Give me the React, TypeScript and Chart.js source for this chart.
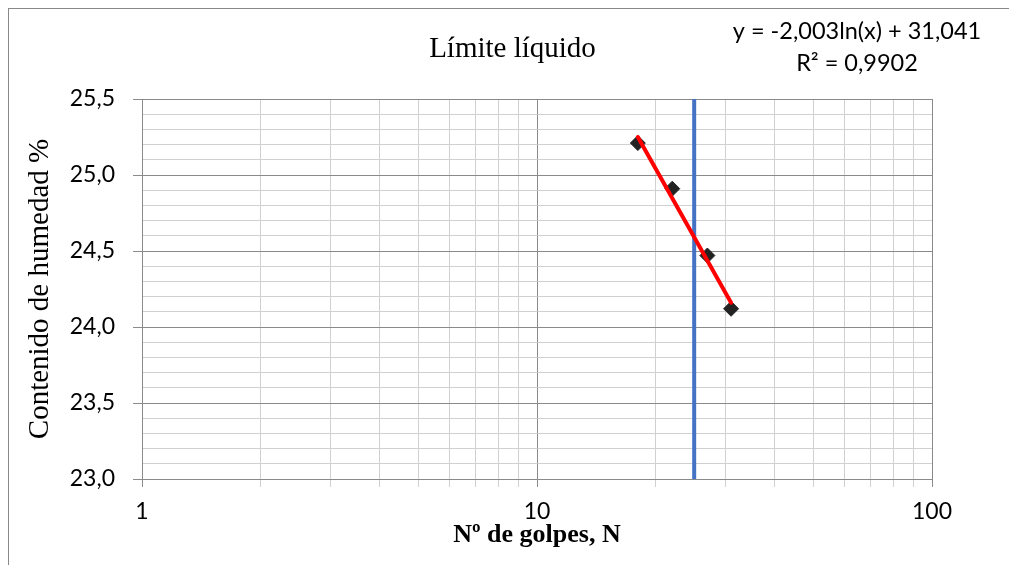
import React, { useEffect, useRef } from "react";
import { Chart, registerables } from "chart.js";

Chart.register(...registerables);

// ---- data ----
const GOLPES = [18, 22, 27, 31];
const HUMEDAD = [25.21, 24.91, 24.47, 24.12];

// logarithmic trend line (ends of the fitted line, as drawn)
const TREND_X = [18, 31];
const TREND_Y = [25.25, 24.16];

// vertical reference line at N = 25
const LIMITE_X = [25, 25];
const LIMITE_Y = [23.0, 25.5];

// axes
const X_TICKS = [1, 2, 3, 4, 5, 6, 7, 8, 9, 10, 20, 30, 40, 50, 60, 70, 80, 90, 100];
const X_MAJOR = [1, 10, 100];
const X_LABELS = ["1", "10", "100"];

const Y_TICKS = [
  23.0, 23.1, 23.2, 23.3, 23.4, 23.5, 23.6, 23.7, 23.8, 23.9,
  24.0, 24.1, 24.2, 24.3, 24.4, 24.5, 24.6, 24.7, 24.8, 24.9,
  25.0, 25.1, 25.2, 25.3, 25.4, 25.5,
];
const Y_MAJOR = [23.0, 23.5, 24.0, 24.5, 25.0, 25.5];
const Y_LABELS = ["23,0", "23,5", "24,0", "24,5", "25,0", "25,5"];

const TITLE = "Límite líquido";
const X_TITLE = "Nº de golpes, N";
const Y_TITLE = "Contenido de humedad %";
const EQUATION = ["y = -2,003ln(x) + 31,041", "R² = 0,9902"];

// ---- styles ----
const MAJOR_GRID = "#8a8a8a";
const MINOR_GRID = "#d0d0d0";
const SANS = "Lato";
const SERIF = "'Liberation Serif'";

const isMajorX = (v: number) => X_MAJOR.indexOf(v) >= 0;
const isMajorY = (v: number) => Y_MAJOR.indexOf(v) >= 0;

const textPlugin = {
  id: "chartTexts",
  afterDraw(chart: any) {
    const { ctx } = chart;
    ctx.save();
    ctx.fillStyle = "#000";
    ctx.textAlign = "center";
    ctx.textBaseline = "alphabetic";
    ctx.font = `29px ${SERIF}`;
    ctx.fillText(TITLE, 503.5, 48);
    ctx.font = `23.5px ${SANS}`;
    ctx.fillText(EQUATION[0], 848, 30);
    ctx.fillText(EQUATION[1], 848, 62);
    ctx.restore();
  },
};

export default function App() {
  const ref = useRef<HTMLCanvasElement | null>(null);

  useEffect(() => {
    if (!ref.current) return;
    const chart = new Chart(ref.current, {
      type: "scatter",
      data: {
        datasets: [
          {
            label: "Tendencia",
            data: TREND_X.map((x, i) => ({ x, y: TREND_Y[i] })),
            showLine: true,
            borderColor: "#ff0000",
            borderWidth: 4,
            borderCapStyle: "round",
            pointRadius: 0,
            order: 0,
          },
          {
            label: "Ensayos",
            data: GOLPES.map((x, i) => ({ x, y: HUMEDAD[i] })),
            pointStyle: "rectRot",
            pointRadius: 7.5,
            backgroundColor: "#222222",
            borderColor: "#222222",
            borderWidth: 1,
            showLine: false,
            order: 1,
          },
          {
            label: "N = 25",
            data: LIMITE_X.map((x, i) => ({ x, y: LIMITE_Y[i] })),
            showLine: true,
            borderColor: "#4472c4",
            borderWidth: 4,
            pointRadius: 0,
            order: 2,
          },
        ],
      },
      options: {
        animation: false,
        responsive: false,
        devicePixelRatio: 1,
        events: [],
        layout: { padding: { top: 90, right: 77, bottom: 14, left: 0 } },
        plugins: {
          legend: { display: false },
          tooltip: { enabled: false },
          title: { display: false },
        },
        scales: {
          x: {
            type: "logarithmic",
            position: "bottom",
            min: 1,
            max: 100,
            afterBuildTicks: (scale: any) => {
              scale.ticks = X_TICKS.map((v) => ({ value: v }));
            },
            afterFit: (scale: any) => {
              scale.height = 72;
            },
            ticks: {
              autoSkip: false,
              maxRotation: 0,
              minRotation: 0,
              padding: 11,
              color: "#000",
              font: { family: SANS, size: 23 },
              callback: (v: any) => {
                const i = X_MAJOR.indexOf(Number(v));
                return i >= 0 ? X_LABELS[i] : "";
              },
            },
            grid: {
              color: (c: any) => (c.tick && isMajorX(c.tick.value) ? MAJOR_GRID : MINOR_GRID),
              tickColor: (c: any) => (c.tick && isMajorX(c.tick.value) ? MAJOR_GRID : MINOR_GRID),
              lineWidth: 1,
              tickLength: 8,
            },
            border: { display: true, color: MAJOR_GRID, width: 1 },
            title: {
              display: true,
              text: X_TITLE,
              color: "#000",
              font: { family: SERIF, size: 26, weight: "bold", lineHeight: 1.2 },
              padding: { top: 0, bottom: 0 },
            },
          },
          y: {
            type: "linear",
            position: "left",
            min: 23,
            max: 25.5,
            afterBuildTicks: (scale: any) => {
              scale.ticks = Y_TICKS.map((v) => ({ value: v }));
            },
            afterFit: (scale: any) => {
              scale.width = 133;
            },
            ticks: {
              autoSkip: false,
              padding: 18,
              color: "#000",
              font: { family: SANS, size: 23 },
              callback: (v: any) => {
                const i = Y_MAJOR.indexOf(Number(v));
                return i >= 0 ? Y_LABELS[i] : "";
              },
            },
            grid: {
              color: (c: any) => (c.tick && isMajorY(c.tick.value) ? MAJOR_GRID : MINOR_GRID),
              tickColor: (c: any) =>
                c.tick && isMajorY(c.tick.value) ? MAJOR_GRID : "rgba(0,0,0,0)",
              lineWidth: 1,
              tickLength: 9,
            },
            border: { display: true, color: MAJOR_GRID, width: 1 },
            title: {
              display: true,
              text: Y_TITLE,
              color: "#000",
              font: { family: SERIF, size: 29, lineHeight: 1.2 },
              padding: { top: 14, bottom: 0 },
            },
          },
        },
      },
      plugins: [textPlugin],
    } as any);
    return () => chart.destroy();
  }, []);

  return (
    <div
      style={{
        position: "fixed",
        left: 8,
        top: 8,
        width: 1001,
        height: 557,
        overflow: "hidden",
        boxSizing: "border-box",
        borderLeft: "1px solid #888",
        borderTop: "1px solid #888",
        background: "#fff",
      }}
    >
      <canvas ref={ref} width={1000} height={556} style={{ display: "block" }} />
    </div>
  );
}
